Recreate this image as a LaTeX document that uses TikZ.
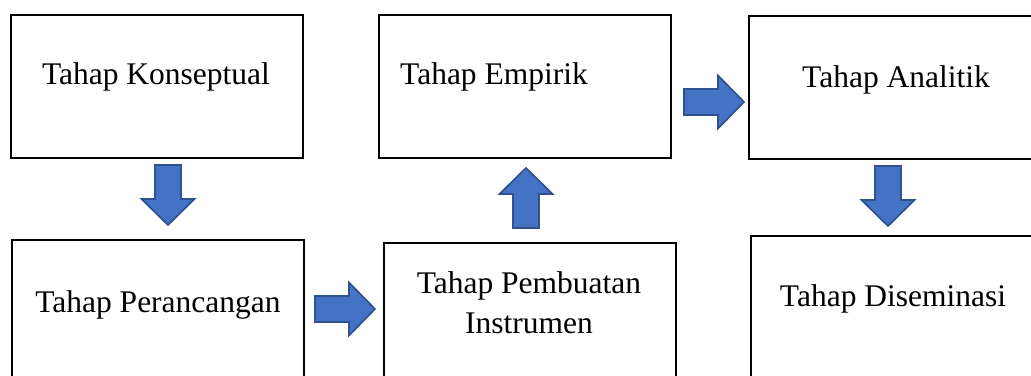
\documentclass[tikz,border=0pt]{standalone}
\usepackage{fontspec}
\setmainfont{Liberation Serif}
\usepackage{xcolor}
\usetikzlibrary{positioning}
\definecolor{arrowblue}{HTML}{4472C4}
\definecolor{arrowedge}{HTML}{2F528F}
\tikzset{
    blockarrow/.pic={
        \path[fill=arrowblue, draw=arrowedge, line width=0.6pt, line join=miter]
            (0,-13) -- (34,-13) -- (34,-26.5) -- (60,0) -- (34,26.5) -- (34,13) -- (0,13) -- cycle;
    }
}

\begin{document}
\begin{tikzpicture}[x=0.0125cm, y=-0.0125cm,
    box/.style={draw, line width=0.75pt, minimum width=3.65cm, minimum height=1.7875cm, inner sep=0, anchor=north west},
    lbl/.style={font=\fontsize{11.2}{14.2}\selectfont, anchor=base, inner sep=0, align=center}]

    \useasboundingbox (0,0) rectangle (1031,376);
    \clip (0,0) rectangle (1031,376);

    \node[box] (konsep) at (10,14) {};
    \node[box] (empirik) at (378,14) {};
    \node[box] (analitik) at (748,15) {};
    \node[box] (rancang) at (11,239) {};
    \node[box] (buat) at (383,242) {};
    \node[box] (disem) at (750,235) {};

    \node[lbl] (tkonsep) at (156,85) {Tahap Konseptual};
    \node[lbl] (tempirik) at (494,85) {Tahap Empirik};
    \node[lbl] (tanalitik) at (896,87) {Tahap Analitik};
    \node[lbl] (trancang) at (158,312) {Tahap Perancangan};
    % base anchor sits on the last line here
    \node[lbl] (tbuat) at (529,333) {Tahap Pembuatan\\Instrumen};
    \node[lbl] (tdisem) at (893,306) {Tahap Diseminasi};

    \pic[rotate=-90] at (168,165) {blockarrow};
    \pic at (315,309) {blockarrow};
    \pic[rotate=90] at (526,228) {blockarrow};
    \pic at (684,102) {blockarrow};
    \pic[rotate=-90] at (888,166) {blockarrow};

\end{tikzpicture}
\end{document}
